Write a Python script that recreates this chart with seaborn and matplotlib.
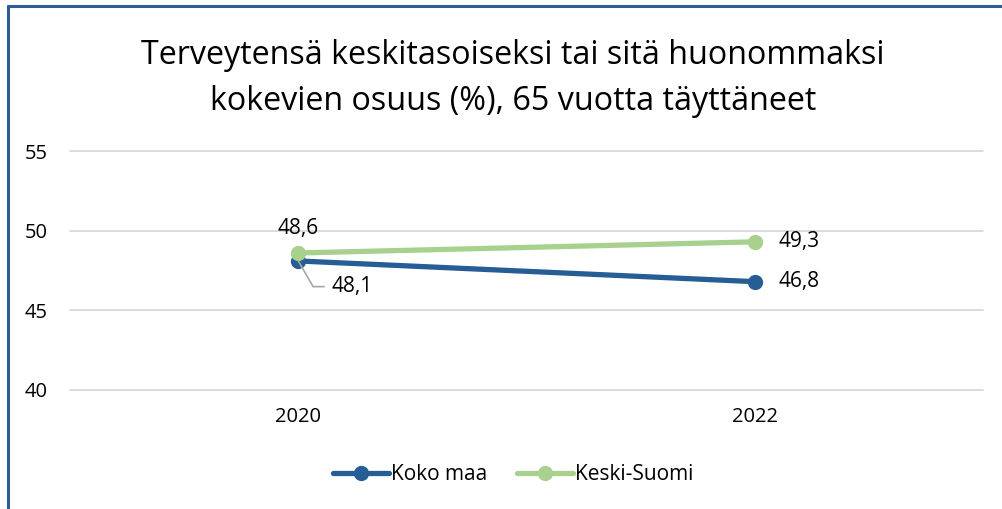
import matplotlib
matplotlib.use("Agg")
import matplotlib.pyplot as plt
import seaborn as sns
import pandas as pd
from matplotlib.lines import Line2D

years = ["2020", "2022"]
koko_maa = [48.1, 46.8]
keski_suomi = [48.6, 49.3]
series_names = ["Koko maa", "Keski-Suomi"]
colors = {"Koko maa": "#275D95", "Keski-Suomi": "#A9D18E"}

df = pd.DataFrame({
    "Vuosi": years * 2,
    "Osuus": koko_maa + keski_suomi,
    "Alue": [series_names[0]] * 2 + [series_names[1]] * 2,
})

sns.set_style("white")
plt.rcParams["font.family"] = ["Open Sans", "DejaVu Sans"]
plt.rcParams["text.color"] = "black"

fig = plt.figure(figsize=(10.02, 5.09), dpi=100)
ax = fig.add_axes([0.0699, 0.2338, 0.9111, 0.4695])

sns.lineplot(data=df, x="Vuosi", y="Osuus", hue="Alue", palette=colors,
             marker="o", markersize=11, markeredgewidth=0, linewidth=3.8,
             legend=False, ax=ax)

ax.set_xlim(-0.5, 1.5)
ax.set_ylim(40, 55)
ax.set_yticks([40, 45, 50, 55])
ax.yaxis.grid(True, color="#D9D9D9", linewidth=1.3)
ax.set_axisbelow(True)
for gl in ax.get_ygridlines():
    gl.set_clip_on(False)
for s in ax.spines.values():
    s.set_visible(False)
ax.set_xlabel("")
ax.set_ylabel("")
ax.tick_params(axis="both", length=0, labelsize=14.5, colors="black")
ax.tick_params(axis="y", pad=32.5)
ax.tick_params(axis="x", pad=12)
for lbl in ax.get_yticklabels():
    lbl.set_horizontalalignment("left")

fmt = lambda v: f"{v:.1f}".replace(".", ",")
lbl_size = 15
# data labels
ax.annotate(fmt(keski_suomi[0]), (0, keski_suomi[0]), xytext=(0, 10),
            textcoords="offset points", ha="center", va="bottom",
            fontsize=lbl_size)
ax.annotate(fmt(keski_suomi[1]), (1, keski_suomi[1]), xytext=(17, 0),
            textcoords="offset points", ha="left", va="center",
            fontsize=lbl_size)
ax.annotate(fmt(koko_maa[1]), (1, koko_maa[1]), xytext=(17, 0),
            textcoords="offset points", ha="left", va="center",
            fontsize=lbl_size)
ax.annotate(fmt(koko_maa[0]), (0, koko_maa[0]), xytext=(24, -18.5),
            textcoords="offset points", ha="left", va="center",
            fontsize=lbl_size,
            arrowprops=dict(arrowstyle="-", color="#A6A6A6", lw=1.2,
                            shrinkA=3, shrinkB=0,
                            connectionstyle="angle,angleA=0,angleB=-60,rad=0"))

fig.text(0.512, 0.846, "Terveytensä keskitasoiseksi tai sitä huonommaksi\n"
         "kokevien osuus (%), 65 vuotta täyttäneet",
         ha="center", va="center", fontsize=23.2, linespacing=1.5)

handles = [Line2D([], [], color=colors[n], marker="o", markersize=11,
                  markeredgewidth=0, linewidth=3.8) for n in series_names]
fig.legend(handles, series_names, loc="center", bbox_to_anchor=(0.512, 0.068),
           ncol=2, frameon=False, fontsize=15, handlelength=2.7,
           handletextpad=0.1, columnspacing=1.4)

# chart frame (top and left edges visible)
frame_c = "#2F5C98"
fig.add_artist(Line2D([0.008, 1.0], [0.988, 0.988], color=frame_c, lw=2.2,
                      transform=fig.transFigure))
fig.add_artist(Line2D([0.008, 0.008], [0.0, 0.988], color=frame_c, lw=2.2,
                      transform=fig.transFigure))

fig.savefig("out.png", dpi=100)
